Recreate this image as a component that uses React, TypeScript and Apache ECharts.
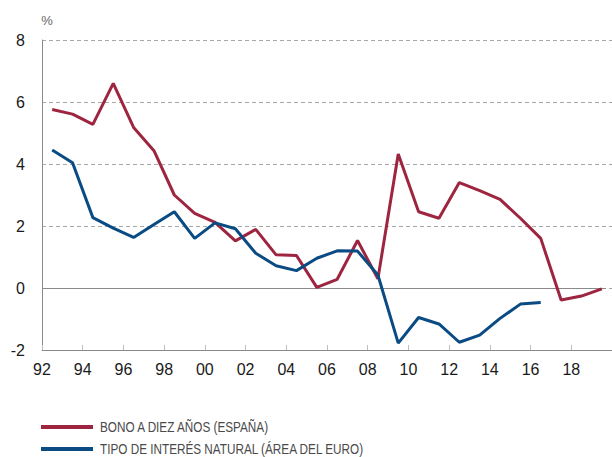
import React, { useEffect, useRef } from "react";
import * as echarts from "echarts";

const years = [1992.5, 1993.5, 1994.5, 1995.5, 1996.5, 1997.5, 1998.5, 1999.5, 2000.5, 2001.5, 2002.5, 2003.5, 2004.5, 2005.5, 2006.5, 2007.5, 2008.5, 2009.5, 2010.5, 2011.5, 2012.5, 2013.5, 2014.5, 2015.5, 2016.5, 2017.5, 2018.5, 2019.5];
const bonoEspana = [5.76, 5.61, 5.28, 6.6, 5.18, 4.43, 3.0, 2.41, 2.12, 1.52, 1.89, 1.07, 1.05, 0.02, 0.28, 1.53, 0.3, 4.32, 2.46, 2.25, 3.4, 3.14, 2.86, 2.25, 1.6, -0.39, -0.26, -0.03];
const tipoNatural = [4.45, 4.04, 2.27, 1.93, 1.63, 2.05, 2.46, 1.6, 2.1, 1.91, 1.12, 0.72, 0.56, 0.96, 1.2, 1.19, 0.42, -1.78, -0.95, -1.16, -1.75, -1.52, -0.98, -0.52, -0.47];
const seriesNames = ["BONO A DIEZ AÑOS (ESPAÑA)", "TIPO DE INTERÉS NATURAL (ÁREA DEL EURO)"];
const yUnit = "%";

const RED = "#9e2540";
const BLUE = "#0b4b84";
const COLORS = [RED, BLUE];

export default function App() {
  const ref = useRef<HTMLDivElement>(null);
  useEffect(() => {
    if (!ref.current) return;
    const chart = echarts.init(ref.current, null, { renderer: "svg" });
    const legendGraphics: any[] = [];
    seriesNames.forEach((name, i) => {
      const cy = 427 + i * 22;
      legendGraphics.push({
        type: "rect",
        left: 41,
        top: cy - 2,
        shape: { width: 52, height: 4 },
        style: { fill: COLORS[i] },
      });
      legendGraphics.push({
        type: "text",
        x: 100,
        y: cy,
        scaleX: 0.84,
        style: {
          text: name,
          fill: "#4a4a4a",
          fontSize: 14,
          fontFamily: "'Liberation Sans', Arial, sans-serif",
          verticalAlign: "middle",
          align: "left",
        },
      });
    });
    chart.setOption({
      animation: false,
      grid: { left: 42, top: 40, width: 571, height: 310, containLabel: false },
      xAxis: {
        type: "value",
        min: 1992,
        max: 2020,
        interval: 2,
        axisLine: { show: true, onZero: false, lineStyle: { color: "#8a8a8a", width: 1 } },
        axisTick: { show: true, inside: true, length: 5, lineStyle: { color: "#bdbdbd" } },
        splitLine: { show: false },
        axisLabel: {
          color: "#1a1a1a",
          fontSize: 16,
          fontFamily: "'Liberation Sans', Arial, sans-serif",
          margin: 11,
          showMaxLabel: false,
          formatter: (v: number) => String(Math.round(v) % 100).padStart(2, "0"),
        },
      },
      yAxis: {
        type: "value",
        min: -2,
        max: 8,
        interval: 2,
        name: yUnit,
        nameLocation: "end",
        nameGap: 13,
        nameTextStyle: {
          color: "#666",
          fontSize: 13,
          fontFamily: "'Liberation Sans', Arial, sans-serif",
          align: "center",
          padding: [0, 0, 0, 10],
        },
        axisLine: { show: true, lineStyle: { color: "#8a8a8a", width: 1 } },
        axisTick: { show: false },
        splitLine: { show: true, lineStyle: { color: "#a8a8a8", type: [4, 3], width: 1 } },
        axisLabel: {
          color: "#1a1a1a",
          fontSize: 16,
          fontFamily: "'Liberation Sans', Arial, sans-serif",
          margin: 17,
        },
      },
      graphic: legendGraphics,
      series: [
        {
          name: seriesNames[0],
          type: "line",
          data: years.map((x, i) => [x, bonoEspana[i]]),
          showSymbol: false,
          symbol: "none",
          lineStyle: { color: RED, width: 3 },
          itemStyle: { color: RED },
          z: 3,
          markLine: {
            silent: true,
            symbol: "none",
            label: { show: false },
            lineStyle: { color: "#8a8a8a", type: "solid", width: 1.2 },
            data: [[{ coord: [1992, 0] }, { coord: [2019.7, 0] }]],
            z: 1,
          },
        },
        {
          name: seriesNames[1],
          type: "line",
          data: years.slice(0, tipoNatural.length).map((x, i) => [x, tipoNatural[i]]),
          showSymbol: false,
          symbol: "none",
          lineStyle: { color: BLUE, width: 3 },
          itemStyle: { color: BLUE },
          z: 4,
        },
      ],
    });
    return () => chart.dispose();
  }, []);
  return <div ref={ref} style={{ width: 612, height: 457, position: "absolute", left: 0, top: 0 }} />;
}
